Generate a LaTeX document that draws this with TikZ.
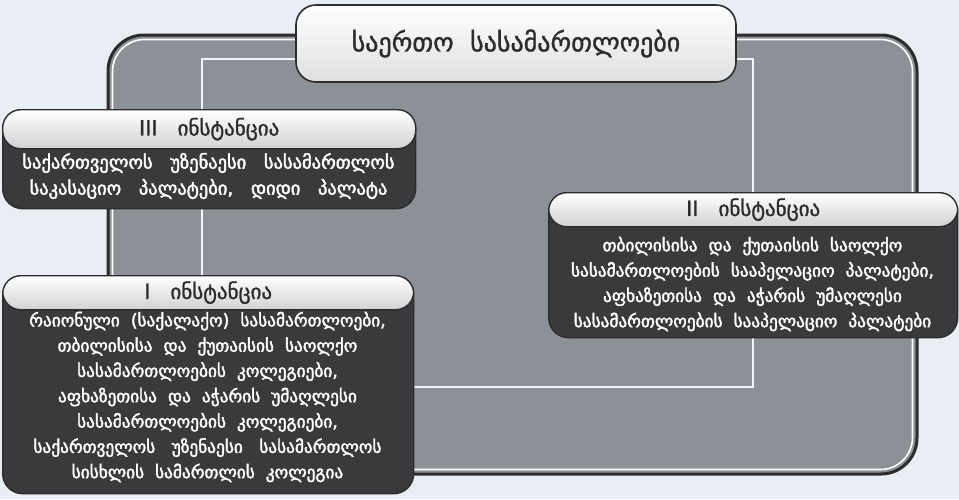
\documentclass[tikz,border=0pt]{standalone}
\usepackage{fontspec}
\newfontfamily\geo{DejaVu Sans}
\newfontfamily\geob[FakeBold=1.2]{DejaVu Sans}
\newfontfamily\geobb[FakeBold=2.2]{DejaVu Sans}
\definecolor{bg}{HTML}{E9EEF4}
\definecolor{framegray}{HTML}{8C9097}
\definecolor{darkline}{HTML}{2D2B2C}
\definecolor{bodydark}{HTML}{3A393B}
\definecolor{headlow}{HTML}{D2D2D4}
\definecolor{innerline}{HTML}{F2F6FB}
\tikzset{
  titlebox/.style={draw=darkline, line width=1.6pt, rounded corners=20pt,
    top color=white, bottom color=headlow!70!white, inner sep=0pt,
    font=\geob\fontsize{26}{30}\selectfont, text=darkline},
  bodybox/.style={draw=darkline, line width=1.4pt, rounded corners=20pt,
    fill=bodydark, inner sep=0pt, anchor=north west},
  headbox/.style={draw=darkline, line width=1.4pt, rounded corners=18pt,
    top color=white, bottom color=headlow, inner sep=0pt, anchor=north west,
    font=\geob\fontsize{21}{24}\selectfont, text=darkline},
  bodytext/.style={align=center, text=white, inner sep=0pt,
    font=\geobb\fontsize{17.3}{25.3}\selectfont},
  bigbodytext/.style={bodytext, font=\geobb\fontsize{18.5}{26}\selectfont}
}
\begin{document}
\begin{tikzpicture}[x=1pt,y=-1pt]
\fill[bg] (0,0) rectangle (959,499);
\useasboundingbox (0,0) rectangle (959,499);
% outer frame
\draw[darkline, line width=3pt, fill=framegray, rounded corners=36pt] (108,35) rectangle (917,474);
\draw[white, line width=1.6pt, rounded corners=32pt] (112.5,39.5) rectangle (912.5,469.5);
% inner rectangle
\draw[innerline, line width=2pt] (202,59) rectangle (753,387);
% title
\node[titlebox, minimum width=440pt, minimum height=77pt] (title) at (516,43.5) {საერთო~~სასამართლოები};
% box III
\node[bodybox, minimum width=413pt, minimum height=99pt] (b3) at (2,109) {};
\node[headbox, minimum width=413pt, minimum height=39pt] (h3) at (2,109) {III~~~ინსტანცია};
\node[bigbodytext] (t3) at (208.5,176) {საქართველოს~~ უზენაესი~~ სასამართლოს\\საკასაციო~~ პალატები,~~ დიდი~~ პალატა};
% box II
\node[bodybox, minimum width=409pt, minimum height=145pt] (b2) at (548,192) {};
\node[headbox, minimum width=409pt, minimum height=34pt] (h2) at (548,192) {II~~~ინსტანცია};
\node[bodytext] (t2) at (752.5,284) {თბილისისა~ და~ ქუთაისის~ საოლქო\\სასამართლოების~ სააპელაციო~ პალატები,\\აფხაზეთისა~ და~ აჭარის~ უმაღლესი\\სასამართლოების~ სააპელაციო~ პალატები};
% box I
\node[bodybox, minimum width=411pt, minimum height=218pt] (b1) at (2,275) {};
\node[headbox, minimum width=411pt, minimum height=34pt] (h1) at (2,275) {I~~~ინსტანცია};
\node[bodytext] (t1) at (207.5,397) {რაიონული~ (საქალაქო)~ სასამართლოები,\\თბილისისა~ და~ ქუთაისის~ საოლქო\\სასამართლოების~ კოლეგიები,\\აფხაზეთისა~ და~ აჭარის~ უმაღლესი\\სასამართლოების~ კოლეგიები,\\საქართველოს~~ უზენაესი~~ სასამართლოს\\სისხლის~ სამართლის~ კოლეგია};
\end{tikzpicture}
\end{document}
